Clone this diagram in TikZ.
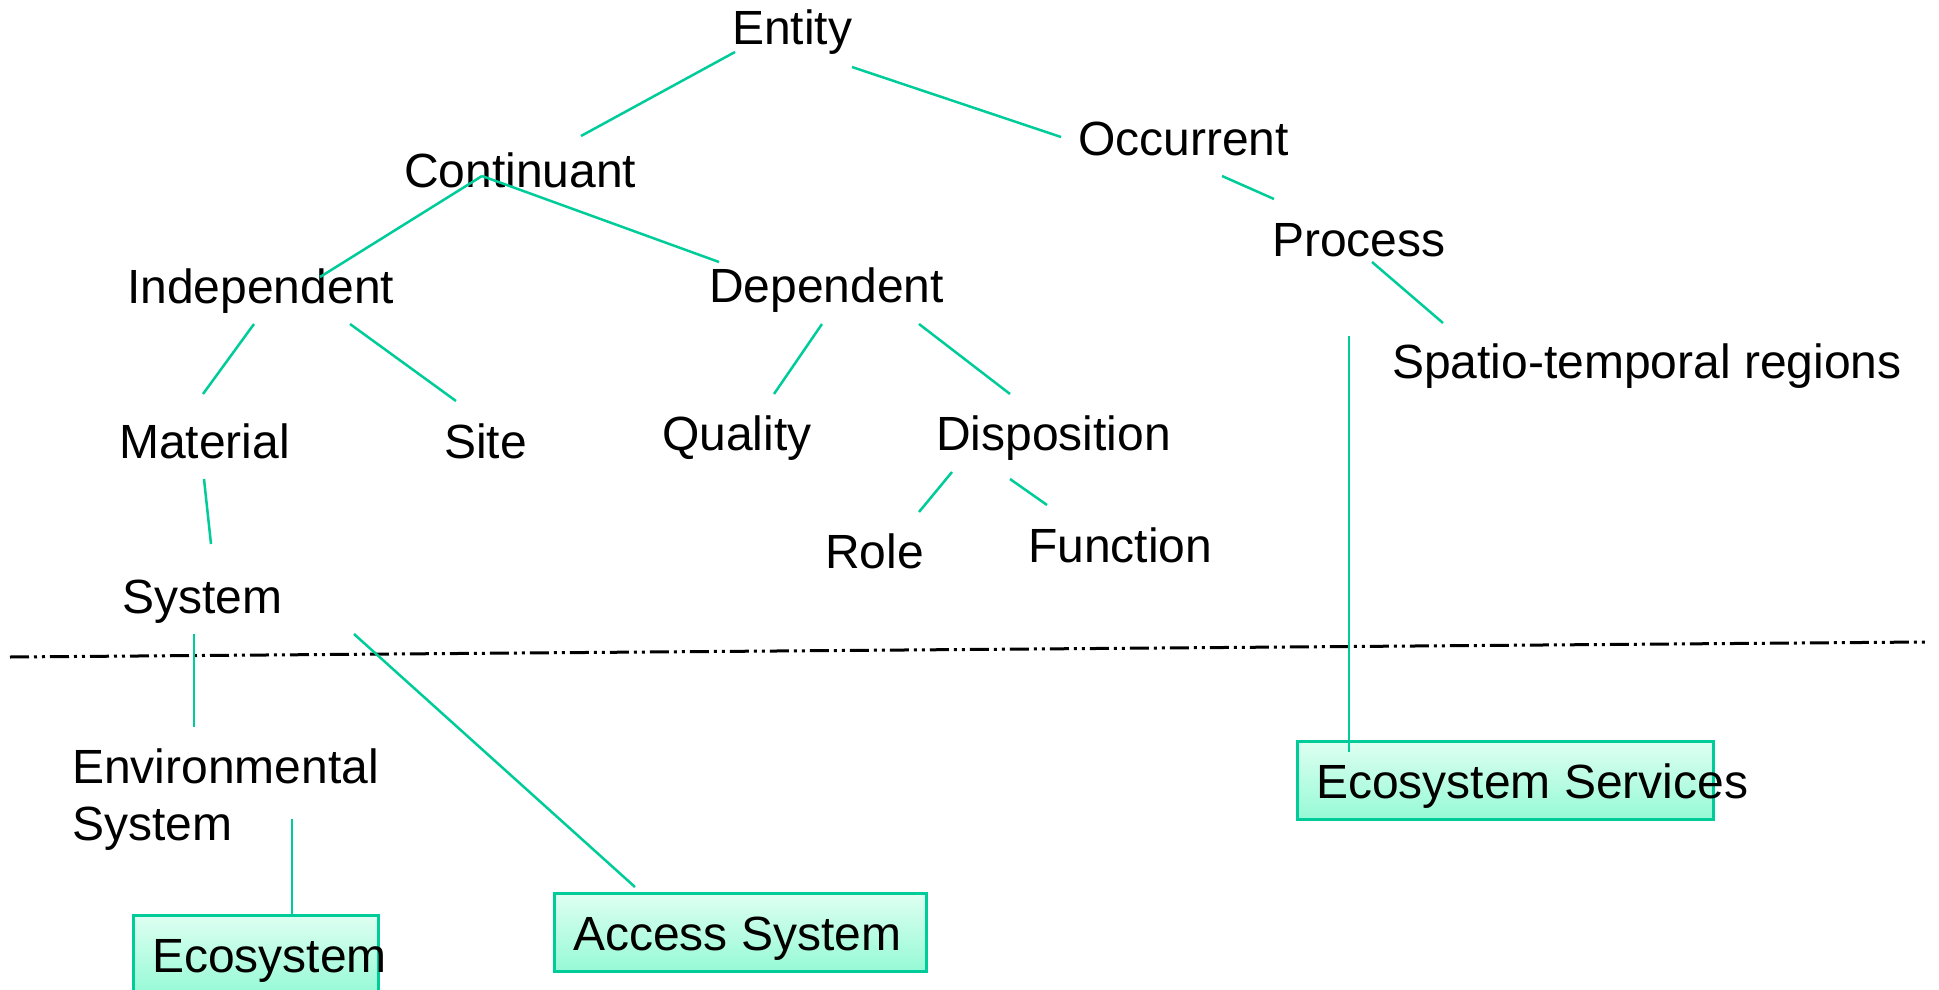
\documentclass[tikz,border=0pt]{standalone}
\usepackage{fontspec}
\setmainfont{Liberation Sans}

\definecolor{linkgreen}{RGB}{0,204,153}
\definecolor{boxtop}{RGB}{222,255,241}
\definecolor{boxbottom}{RGB}{150,250,214}

\begin{document}
\begin{tikzpicture}[
    x=1pt, y=-1pt,
    term/.style={anchor=base west, inner sep=0pt, font=\fontsize{48pt}{57pt}\selectfont},
    box/.style={anchor=north west, draw=linkgreen, line width=2.5pt, top color=boxtop, bottom color=boxbottom,
        inner sep=0pt, text height=57pt, text depth=21pt, font=\fontsize{48pt}{57pt}\selectfont},
    link/.style={draw=linkgreen, line width=2.5pt},
    divider/.style={line width=3pt, dash pattern=on 19pt off 5pt on 3pt off 5pt on 3pt off 5pt}
]
\useasboundingbox (0,0) rectangle (1939,990);

% upper ontology
\node[term] (entity) at (732,45) {Entity};
\node[term] (continuant) at (404,187) {Continuant};
\node[term] (occurrent) at (1078,155) {Occurrent};
\node[term] (process) at (1272,256) {Process};
\node[term] (spatio) at (1392,378) {Spatio-temporal regions};
\node[term] (independent) at (127,303) {Independent};
\node[term] (dependent) at (709,302) {Dependent};
\node[term] (material) at (119,458) {Material};
\node[term] (site) at (444,458) {Site};
\node[term] (quality) at (662,450) {Quality};
\node[term] (disposition) at (936,450) {Disposition};
\node[term] (role) at (825,568) {Role};
\node[term] (function) at (1028,562) {Function};
\node[term] (system) at (122,613) {System};

% domain terms
\node[term, anchor=north west, align=left] (envsys) at (72,749) {Environmental\\System};
\node[box] (ecosystem) at (132,914) {\makebox[245pt][l]{\hspace{19pt}Ecosystem}};
\node[box] (access) at (553,892) {\makebox[372pt][l]{\hspace{19pt}Access System}};
\node[box] (services) at (1296,740) {\makebox[416pt][l]{\hspace{19pt}Ecosystem Services}};

\draw[divider] (10,657) -- (1925,642);

\draw[link] ([shift={(3,7)}]entity.base west) -- ([shift={(177,-51)}]continuant.base west);
\draw[link] ([shift={(120,22)}]entity.base west) -- ([shift={(-17,-18)}]occurrent.base west);
\draw[link] ([shift={(144,21)}]occurrent.base west) -- ([shift={(2,-57)}]process.base west);
\draw[link] ([shift={(100,6)}]process.base west) -- ([shift={(51,-55)}]spatio.base west);
\draw[link] ([shift={(78,-11)}]continuant.base west) -- ([shift={(193,-26)}]independent.base west);
\draw[link] ([shift={(78,-11)}]continuant.base west) -- ([shift={(10,-40)}]dependent.base west);
\draw[link] ([shift={(127,21)}]independent.base west) -- ([shift={(84,-64)}]material.base west);
\draw[link] ([shift={(223,21)}]independent.base west) -- ([shift={(12,-57)}]site.base west);
\draw[link] ([shift={(113,22)}]dependent.base west) -- ([shift={(112,-56)}]quality.base west);
\draw[link] ([shift={(210,22)}]dependent.base west) -- ([shift={(74,-56)}]disposition.base west);
\draw[link] ([shift={(16,22)}]disposition.base west) -- ([shift={(94,-56)}]role.base west);
\draw[link] ([shift={(74,29)}]disposition.base west) -- ([shift={(19,-57)}]function.base west);
\draw[link] ([shift={(85,21)}]material.base west) -- ([shift={(89,-69)}]system.base west);
\draw[link] ([shift={(72,21)}]system.base west) -- ([shift={(122,-22)}]envsys.north west);
\draw[link] ([shift={(232,21)}]system.base west) -- ([shift={(82,-5)}]access.north west);
\draw[link] ([shift={(220,70)}]envsys.north west) -- ([shift={(160,0)}]ecosystem.north west);
\draw[link] ([shift={(77,80)}]process.base west) -- ([shift={(53,12)}]services.north west);
\end{tikzpicture}
\end{document}
